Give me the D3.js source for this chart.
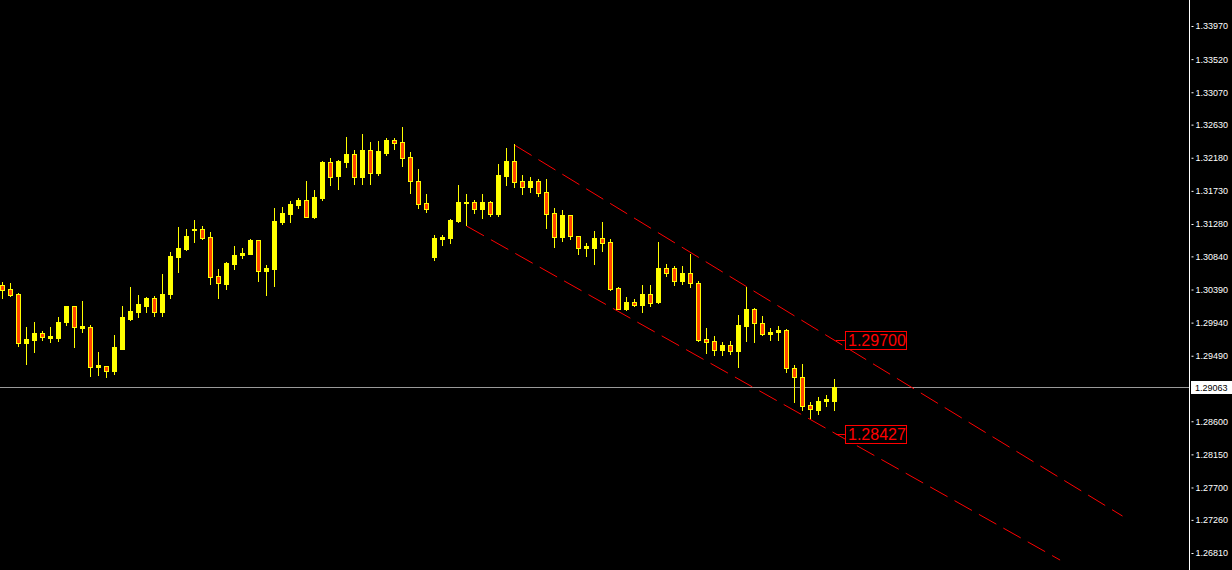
<!DOCTYPE html>
<html><head><meta charset="utf-8">
<script src="https://cdn.jsdelivr.net/npm/d3@7/dist/d3.min.js"></script>
<style>html,body{margin:0;padding:0;background:#000;overflow:hidden}</style>
</head><body>
<svg id="c" width="1232" height="570"></svg>
<script>
const opens=[1.30451,1.30397,1.30329,1.29663,1.29704,1.29799,1.29731,1.29731,1.29948,1.30165,1.29867,1.29880,1.29337,1.29350,1.29282,1.29581,1.29989,1.30084,1.30165,1.30274,1.30084,1.30329,1.30832,1.30940,1.31198,1.31212,1.31103,1.30573,1.30465,1.30736,1.30859,1.30872,1.31063,1.30641,1.30668,1.31307,1.31416,1.31538,1.31606,1.31375,1.31632,1.32122,1.31931,1.32122,1.32230,1.31918,1.32285,1.31972,1.32244,1.32421,1.32393,1.32190,1.31863,1.31565,1.30832,1.31076,1.31090,1.31321,1.31565,1.31579,1.31484,1.31579,1.31416,1.31931,1.32135,1.31863,1.31782,1.31863,1.31714,1.31429,1.31103,1.31402,1.31117,1.30954,1.30954,1.31090,1.31035,1.30410,1.30125,1.30220,1.30179,1.30329,1.30220,1.30682,1.30682,1.30505,1.30614,1.30478,1.29717,1.29690,1.29568,1.29636,1.29554,1.29894,1.30125,1.29934,1.29785,1.29812,1.29839,1.29323,1.29201,1.28820,1.28752,1.28874,1.28874];
const highs=[1.30492,1.30478,1.30342,1.29880,1.29948,1.29826,1.29880,1.30016,1.30165,1.30165,1.30233,1.29907,1.29540,1.29350,1.29771,1.30165,1.30424,1.30315,1.30288,1.30302,1.30601,1.30899,1.31239,1.31212,1.31334,1.31253,1.31171,1.30668,1.30764,1.30981,1.30954,1.31076,1.31063,1.30723,1.31497,1.31511,1.31592,1.31632,1.31863,1.31741,1.32135,1.32176,1.32149,1.32461,1.32285,1.32502,1.32393,1.32407,1.32448,1.32448,1.32597,1.32257,1.32026,1.31687,1.31130,1.31130,1.31348,1.31809,1.31687,1.31606,1.31687,1.31592,1.32094,1.32312,1.32366,1.31945,1.31918,1.31891,1.31891,1.31497,1.31470,1.31402,1.31117,1.31022,1.31185,1.31307,1.31076,1.30424,1.30288,1.30261,1.30451,1.30451,1.31035,1.30736,1.30709,1.30709,1.30872,1.30505,1.29867,1.29758,1.29676,1.29690,1.30043,1.30424,1.30138,1.30030,1.29867,1.29894,1.29853,1.29364,1.29377,1.28861,1.28929,1.28956,1.29174];
const lows=[1.30274,1.30302,1.29622,1.29377,1.29540,1.29704,1.29676,1.29690,1.29907,1.29608,1.29812,1.29214,1.29228,1.29201,1.29242,1.29581,1.29975,1.30016,1.30084,1.30030,1.30030,1.30274,1.30628,1.30927,1.31035,1.31076,1.30465,1.30274,1.30397,1.30668,1.30818,1.30872,1.30505,1.30315,1.30438,1.31280,1.31307,1.31497,1.31375,1.31361,1.31606,1.31809,1.31755,1.32054,1.31823,1.31823,1.31823,1.31945,1.32217,1.32298,1.32067,1.31700,1.31497,1.31443,1.30791,1.30995,1.31022,1.31307,1.31266,1.31429,1.31361,1.31389,1.31389,1.31809,1.31782,1.31687,1.31714,1.31660,1.31226,1.30967,1.31049,1.31076,1.30872,1.30845,1.30736,1.30913,1.30383,1.30125,1.30111,1.30165,1.30084,1.30165,1.30206,1.30573,1.30451,1.30465,1.30424,1.29690,1.29527,1.29500,1.29500,1.29513,1.29337,1.29690,1.29676,1.29771,1.29704,1.29704,1.29269,1.28861,1.28752,1.28643,1.28698,1.28806,1.28752];
const closes=[1.30383,1.30315,1.29663,1.29717,1.29799,1.29744,1.29758,1.29948,1.30165,1.29880,1.29894,1.29337,1.29364,1.29282,1.29608,1.30016,1.30098,1.30193,1.30274,1.30084,1.30329,1.30845,1.30954,1.31117,1.31212,1.31090,1.30560,1.30478,1.30750,1.30859,1.30886,1.31063,1.30641,1.30682,1.31321,1.31429,1.31552,1.31606,1.31375,1.31646,1.32122,1.31918,1.32135,1.32230,1.31918,1.32285,1.31972,1.32271,1.32421,1.32380,1.32176,1.31863,1.31552,1.31484,1.31090,1.31103,1.31334,1.31579,1.31579,1.31484,1.31579,1.31416,1.31945,1.32135,1.31850,1.31782,1.31863,1.31700,1.31416,1.31103,1.31402,1.31117,1.30954,1.30981,1.31090,1.31022,1.30397,1.30125,1.30220,1.30179,1.30329,1.30206,1.30682,1.30614,1.30505,1.30614,1.30478,1.29704,1.29676,1.29568,1.29636,1.29554,1.29907,1.30125,1.29934,1.29785,1.29812,1.29839,1.29323,1.29201,1.28806,1.28766,1.28874,1.28902,1.29063];
const priceTicks=[1.33970,1.33520,1.33070,1.32630,1.32180,1.31730,1.31280,1.30840,1.30390,1.29940,1.29490,1.28600,1.28150,1.27700,1.27260,1.26810];
const currentPrice=1.29063;
const upperChannel=[[64,1.32353],[140,1.27312]];
const lowerChannel=[[58,1.31253],[132.2,1.26714]];
const priceLabels=[1.29700,1.28427];
const labelIndex=105.3;

const svg=d3.select("#c");
svg.append("rect").attr("width",1232).attr("height",570).attr("fill","#000");
const x=d3.scaleLinear().domain([0,147]).range([2.5,2.5+8*147]);
const y=d3.scaleLinear().domain([1.33970,1.26810]).range([26,553]);
const YEL="#FFFF00", ORG="#FF4500";

// current price line
svg.append("line").attr("x1",0).attr("x2",1189).attr("y1",Math.round(y(currentPrice))+0.5).attr("y2",Math.round(y(currentPrice))+0.5)
  .attr("stroke","#9a9a9a").attr("stroke-width",1);

// channel lines
const line=d3.line().x(d=>x(d[0])).y(d=>y(d[1]));
[upperChannel,lowerChannel].forEach(c=>{
  svg.append("path").attr("d",line(c)).attr("fill","none").attr("stroke","#FF0000").attr("stroke-width",1).attr("stroke-dasharray","20,8");
});

// candles
const data=opens.map((o,i)=>({i,o,h:highs[i],l:lows[i],c:closes[i]}));
const g=svg.append("g");
data.forEach(d=>{
  const cx=Math.floor(x(d.i))+0.5;
  g.append("line").attr("x1",cx).attr("x2",cx).attr("y1",Math.round(y(d.h))).attr("y2",Math.round(y(d.l))+1)
    .attr("stroke",YEL).attr("stroke-width",1);
  const top=Math.round(y(Math.max(d.o,d.c))), bot=Math.round(y(Math.min(d.o,d.c)));
  const bull=d.c>=d.o;
  g.append("rect").attr("x",cx-2).attr("y",top+0.5).attr("width",4).attr("height",Math.max(bot-top,1))
    .attr("fill",bull?YEL:ORG).attr("stroke",YEL).attr("stroke-width",1);
});

// price labels
priceLabels.forEach(p=>{
  const yy=y(p), lx=x(labelIndex);
  svg.append("line").attr("x1",lx-9).attr("x2",lx).attr("y1",Math.round(yy)+0.5).attr("y2",Math.round(yy)+0.5).attr("stroke","#FF0000");
  svg.append("rect").attr("x",Math.round(lx)+0.5).attr("y",Math.round(yy-9)+0.5).attr("width",61).attr("height",18)
    .attr("fill","#000").attr("stroke","#FF0000").attr("stroke-width",1);
  svg.append("text").attr("x",Math.round(lx)+3).attr("y",Math.round(yy)+6).attr("fill","#FF0000")
    .attr("font-family","Liberation Sans, Arial, sans-serif").attr("font-size",16).text(p.toFixed(5));
});

// right axis
const ax=svg.append("g").attr("transform","translate(1189,0)");
ax.append("line").attr("x1",0.5).attr("x2",0.5).attr("y1",0).attr("y2",570).attr("stroke","#fff");
const axis=d3.axisRight(y).tickValues(priceTicks).tickSize(4).tickPadding(3).tickFormat(d3.format(".5f"));
const axg=ax.append("g").attr("transform","translate(0.5,0)").call(axis);
axg.select(".domain").remove();
axg.selectAll(".tick line").attr("stroke","#fff").attr("x1",2).attr("x2",4);
axg.selectAll(".tick text").attr("fill","#fff").attr("font-family","Liberation Sans, Arial, sans-serif").attr("font-size",9).attr("x",6);
// current price tag
const cy=Math.round(y(currentPrice));
ax.append("rect").attr("x",2).attr("y",cy-6).attr("width",43).attr("height",13).attr("fill","#fff");
ax.append("text").attr("x",6).attr("y",cy+3.5).attr("fill","#000").attr("font-family","Liberation Sans, Arial, sans-serif").attr("font-size",9).text(currentPrice.toFixed(5));
</script>
</body></html>
